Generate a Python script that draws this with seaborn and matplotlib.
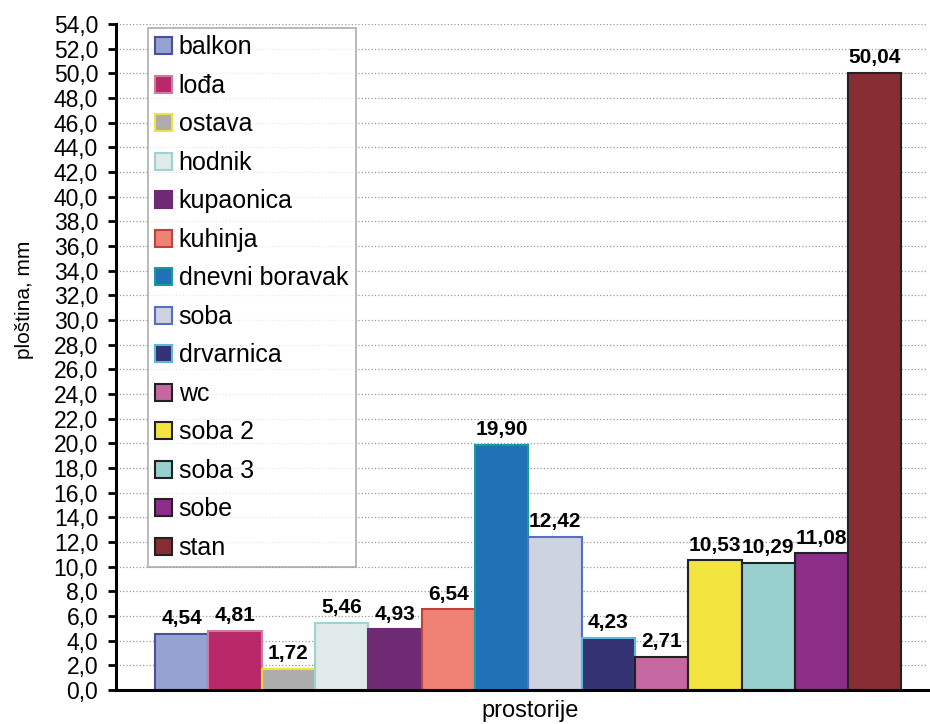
import numpy as np
import pandas as pd
import matplotlib.pyplot as plt
import seaborn as sns

# podaci
prostorije = ['balkon', 'lođa', 'ostava', 'hodnik', 'kupaonica', 'kuhinja',
              'dnevni boravak', 'soba', 'drvarnica', 'wc', 'soba 2', 'soba 3',
              'sobe', 'stan']
plostina = [4.54, 4.81, 1.72, 5.46, 4.93, 6.54, 19.90, 12.42, 4.23, 2.71,
            10.53, 10.29, 11.08, 50.04]
boje = ['#94A3CF', '#B9296A', '#ADADAD', '#E0EAE8', '#6E2B73', '#EE8275',
        '#1F72B5', '#CDD3E0', '#333272', '#C567A0', '#F3E440', '#97D0CF',
        '#8C2D87', '#882D33']
rubovi = ['#4B4FA0', '#D07AA0', '#F2E33A', '#9DD3D3', '#6E2B73', '#C0403A',
          '#1A9A9A', '#5570C0', '#5AB8E0', '#222222', '#222222', '#222222',
          '#222222', '#222222']
y_ticks = np.arange(0, 56, 2)

df = pd.DataFrame({'prostorija': prostorije, 'plostina': plostina})

sns.set_style('white')
plt.rcParams['font.family'] = ['Liberation Sans', 'DejaVu Sans']
plt.rcParams['text.color'] = 'black'
plt.rcParams['axes.labelcolor'] = 'black'
plt.rcParams['ytick.color'] = 'black'

fig, ax = plt.subplots(figsize=(9.3, 7.24), dpi=100)
fig.subplots_adjust(left=0.125, right=0.998, top=0.967, bottom=0.047)

sns.barplot(data=df, x='prostorija', y='plostina', hue='prostorija',
            palette=dict(zip(prostorije, boje)), width=1.0, dodge=False,
            saturation=1, legend=True, ax=ax, linewidth=1.5)

for patch, rub in zip(ax.patches, rubovi):
    patch.set_edgecolor(rub)

# vrijednosti iznad stupaca
for i, v in enumerate(plostina):
    ax.text(i, v + 0.45, f'{v:.2f}'.replace('.', ','), ha='center', va='bottom',
            fontsize=15, fontweight='bold',
            family=['Liberation Sans Narrow', 'Liberation Sans'])

ax.set_xlim(-1.23, 14.0)
ax.set_ylim(0, 54)
ax.set_yticks(y_ticks)
ax.set_yticklabels([f'{t:.1f}'.replace('.', ',') for t in y_ticks], fontsize=16.5)
ax.set_xticks([])
ax.set_xlabel('prostorije', fontsize=17, va='center')
ax.set_ylabel('ploština, mm', fontsize=15, va='center', ha='center')
ax.xaxis.set_label_coords(0.51, -0.031)
ax.yaxis.set_label_coords(-0.113, 0.586)

ax.yaxis.grid(True, linestyle=':', color='#999999', linewidth=0.9)
ax.set_axisbelow(True)
ax.tick_params(axis='y', direction='out', length=6, width=2, pad=7, left=True)
sns.despine(ax=ax, top=True, right=True)
ax.spines['left'].set_linewidth(2.2)
ax.spines['bottom'].set_linewidth(2.2)
ax.spines['left'].set_color('black')
ax.spines['bottom'].set_color('black')

leg = ax.legend(loc='upper left', bbox_to_anchor=(0.039, 0.994), fontsize=18,
                frameon=True, fancybox=False, edgecolor='#999999',
                handlelength=0.68, handleheight=0.68, handletextpad=0.25,
                labelspacing=0.58, borderpad=0.3, borderaxespad=0)
leg.get_frame().set_linewidth(1.2)
for h, rub in zip(leg.legend_handles, rubovi):
    h.set_edgecolor(rub)
    h.set_linewidth(1.5)

plt.savefig('out.png', dpi=100)
